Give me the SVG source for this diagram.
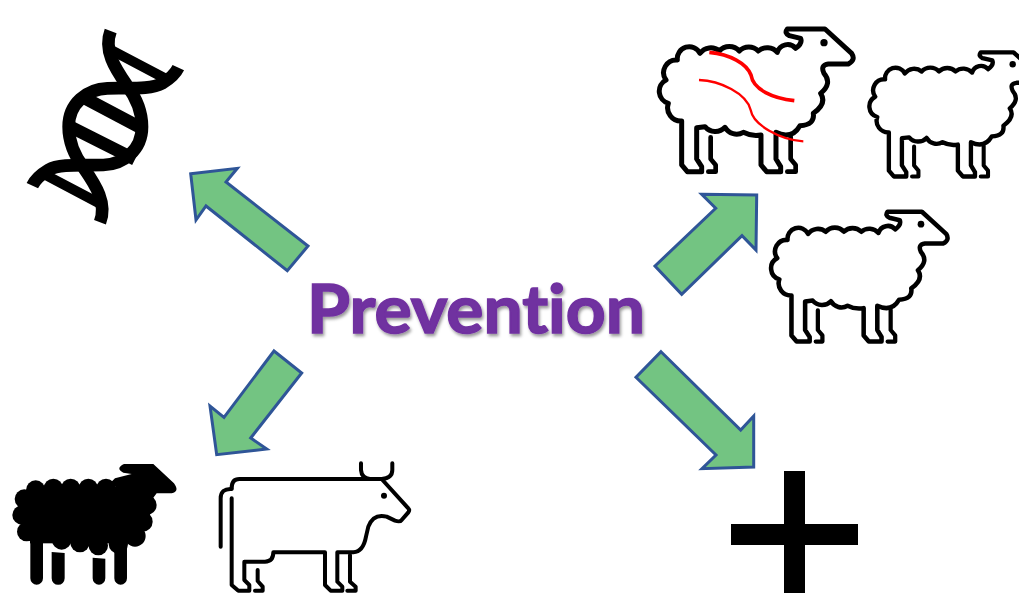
<svg xmlns="http://www.w3.org/2000/svg" xmlns:xlink="http://www.w3.org/1999/xlink" width="1019" height="593" viewBox="0 0 1019 593">
<style>
.arrow{fill:#73c482;stroke:#2f5597;stroke-width:3;stroke-linejoin:miter}
.line{fill:none;stroke:#000;stroke-linejoin:round;stroke-linecap:round}
.title{font-family:"Lato","Liberation Sans",sans-serif;font-weight:700;font-size:67px;fill:#7030a0;stroke:#7030a0;stroke-width:1.6;font-variant-ligatures:none}
</style>
<defs>
<filter id="shadow" x="-5%" y="-20%" width="110%" height="150%"><feDropShadow dx="1.5" dy="2.5" stdDeviation="1.6" flood-color="#000" flood-opacity="0.4"/></filter>
<g id="sheep">
<path class="line" stroke-width="15" d="M437,100 A32,32 0 0 0 382,112 A40,40 0 0 0 325,108 A40,40 0 0 0 268,108 A40,40 0 0 0 208,108 A40,40 0 0 0 150,115 A36,36 0 0 0 82,135 A38,38 0 0 0 48,195 A38,38 0 0 0 55,265 A40,40 0 0 0 95,318 L95,450 L112,470 L155,470 L155,455 L140,432 L140,338 L165,335 A40,40 0 0 0 225,337 A40,40 0 0 0 280,352 Q305,365 333,360 L333,450 L350,470 L392,470 L392,455 L378,432 L378,352 Q425,375 450,332 Q495,330 490,295 Q532,265 512,235 Q548,205 522,175 Q510,150 535,147 L595,147 Q618,135 605,115 L525,42 L412,42 Q402,55 418,62 L452,70 Q458,85 437,100 Z"/>
<path class="line" stroke-width="14" d="M182,367 L182,432 L197,450 L197,470 L175,470 M422,365 L422,432 L437,450 L437,470 L412,470"/>
<circle cx="522" cy="83" r="11" fill="#000"/>
</g>
</defs>

<g id="connectors">
<polygon class="arrow" points="190.7,173.7 237.3,168.3 226,182 308,246 287.3,270.7 206,206 196,220"/>
<polygon class="arrow" points="274,351 301.7,373 250.7,438 266.7,449 216.7,454.7 210,406 224,417.3"/>
<polygon class="arrow" points="661,351.7 740.7,430 753.7,416 753.7,467 702,468.7 716,455 636,377.3"/>
<polygon class="arrow" points="701.7,194.3 756.7,195 756,250 742,235.7 681.7,294.3 655,266 715.7,208.3"/>
</g>

<g id="dna" transform="translate(20,20) scale(0.3333)">
<path fill="none" stroke="#000" stroke-width="38" d="M272,33 C250,90 285,145 320,195 C350,235 366,280 366,320 C366,390 310,433 250,435 C190,437 120,430 85,450 C60,465 45,480 37,497"/>
<path fill="none" stroke="#000" stroke-width="38" d="M240,607 C262,550 227,495 192,445 C162,405 146,360 146,320 C146,250 202,207 262,205 C322,203 392,210 427,190 C452,175 467,160 475,143"/>
<path fill="none" stroke="#000" stroke-width="30" d="M270,88 L450,183 M62,457 L242,552"/>
<path fill="none" stroke="#000" stroke-width="38" d="M190,232 L360,322 M150,320 L345,418"/>
</g>

<g id="sheep-red">
<use xlink:href="#sheep" href="#sheep" transform="translate(650,15) scale(0.3333)"/>
<g transform="translate(650,15) scale(0.3333)" fill="none" stroke="#f00">
<path stroke-width="11" d="M178,112 C240,118 290,145 303,180 C310,225 370,250 433,257"/>
<path stroke-width="7" d="M147,195 C210,197 290,235 302,285 C310,330 390,375 460,379"/>
</g>
</g>
<g id="sheep-right">
<use xlink:href="#sheep" href="#sheep" transform="translate(650,15) scale(0.3333) translate(634,75.5) scale(0.87)"/>
</g>
<g id="sheep-lower">
<use xlink:href="#sheep" href="#sheep" transform="translate(650,15) scale(0.3333) translate(338,552) scale(0.91)"/>
</g>

<g id="sheep-black" transform="translate(0,450) scale(0.3333)" fill="#000">
<circle cx="107" cy="120" r="29"/><circle cx="160" cy="115" r="29"/><circle cx="212" cy="115" r="29"/><circle cx="265" cy="115" r="29"/><circle cx="318" cy="115" r="29"/>
<circle cx="73" cy="147" r="29"/><circle cx="66" cy="195" r="29"/><circle cx="80" cy="245" r="29"/>
<circle cx="185" cy="270" r="29"/><circle cx="240" cy="278" r="29"/><circle cx="295" cy="287" r="29"/><circle cx="355" cy="282" r="29"/><circle cx="405" cy="258" r="32"/>
<circle cx="428" cy="215" r="30"/><circle cx="440" cy="165" r="30"/>
<rect x="90" y="110" width="330" height="170"/>
<rect x="70" y="130" width="40" height="120"/>
<rect x="400" y="130" width="50" height="100"/>
<path d="M372,42 L460,42 L522,100 Q540,125 515,130 L470,130 L440,170 L330,100 L345,85 L395,72 L370,68 Q345,55 372,42 Z"/>
<path stroke="#000" stroke-width="38" stroke-linecap="round" d="M110,270 L110,385 M362,290 L362,385"/>
<path d="M155,306 L194,309 L194,385 A19,19 0 0 1 155,385 Z M278,323 L316,326 L316,385 A19,19 0 0 1 278,385 Z"/>
</g>

<g id="cow" transform="translate(210,455) scale(0.3333)">
<path class="line" stroke-width="12" d="M65,100 Q65,72 88,72 L515,72 L595,160 Q600,165 595,172 L575,195 Q570,202 555,197 L530,185 Q490,175 475,215 L468,245 Q460,290 430,292 L382,292 L382,380 L397,395 L397,407 L362,407 L345,390 L345,292 L190,292 Q190,320 165,320 L103,320 L103,375 L118,390 L118,407 L85,407 L65,390 L65,130"/>
<path class="line" stroke-width="12" d="M65,102 Q32,100 32,130 L32,275 M143,345 L143,378 L158,395 L158,407 L135,407 M420,300 L420,380 L437,395 L437,407 L412,407 M453,25 L453,45 Q455,70 480,72 M515,72 Q547,70 547,45 L547,25"/>
<circle cx="522" cy="122" r="9" fill="#000"/>
</g>

<g id="plus" fill="#000">
<rect x="784" y="471" width="21" height="122"/>
<rect x="731" y="524" width="127" height="21"/>
</g>

<g id="title">
<text class="title" x="307" y="333" textLength="338" lengthAdjust="spacingAndGlyphs" filter="url(#shadow)">Prevention</text>
</g>
</svg>
